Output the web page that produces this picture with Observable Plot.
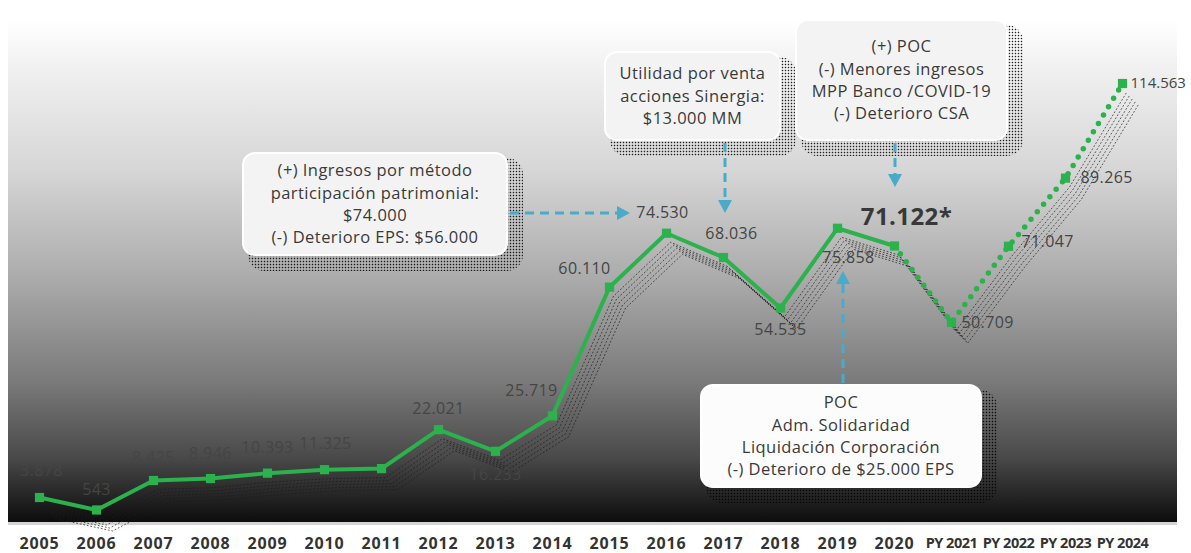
<!DOCTYPE html>
<html>
<head>
<meta charset="utf-8">
<script src="https://cdn.jsdelivr.net/npm/d3@7"></script>
<script src="https://cdn.jsdelivr.net/npm/@observablehq/plot@0.6"></script>
<style>
  html, body { margin: 0; padding: 0; background: #fff; }
  #wrap { position: relative; width: 1191px; height: 553px; overflow: hidden; font-family: "Open Sans", "Noto Sans", sans-serif; }
  #bg { position: absolute; left: 8px; top: 20px; width: 1169px; height: 502px;
        background: linear-gradient(to bottom, #ffffff 0%, #f0f0f0 10%, #d6d6d6 30%, #aaaaaa 52%, #7a7a7a 72%, #4a4a4a 87%, #0c0c0c 100%); }
  #base { position: absolute; left: 8px; top: 522px; width: 1169px; height: 3px; background: #d4d4d4; }
  #chart { position: absolute; left: 0; top: 0; }
  .box { position: absolute; box-sizing: border-box; border-radius: 13px; background: #f3f3f3; border: 2px solid #fff;
         color: #3a3a3a; font-size: 16.5px; letter-spacing: 0.45px; line-height: 22.4px; text-align: center; display: flex; flex-direction: column; justify-content: center; }
  .shadow { position: absolute; border-radius: 16px;
            background-image: radial-gradient(circle, rgba(0,0,0,0.85) 0.6px, rgba(0,0,0,0) 1.1px);
            background-size: 3px 3px; }
  #arrows { position: absolute; left: 0; top: 0; }
</style>
</head>
<body>
<div id="wrap">
  <div id="bg"></div>
  <div id="base"></div>
  <div id="chart"></div>
  <svg id="arrows" width="1191" height="553"></svg>
</div>
<script>
// ---- data ----
const years = ["2005","2006","2007","2008","2009","2010","2011","2012","2013","2014","2015","2016","2017","2018","2019","2020","PY 2021","PY 2022","PY 2023","PY 2024"];
const values = [3.878, 0.543, 8.425, 8.946, 10.393, 11.325, 11.6, 22.021, 16.233, 25.719, 60.110, 74.530, 68.036, 54.535, 75.858, 71.122, 50.709, 71.047, 89.265, 114.563];
const labels = ["3.878","543","8.425","8.946","10.393","11.325","","22.021","16.233","25.719","60.110","74.530","68.036","54.535","75.858","71.122*","50.709","71.047","89.265","114.563"];
const actualCount = 16; // 2005..2020 real, rest projected

const notes = [
  ["(+) Ingresos por método", "participación patrimonial:", "$74.000", "(-) Deterioro EPS: $56.000"],
  ["Utilidad por venta", "acciones Sinergia:", "$13.000 MM"],
  ["(+) POC", "(-) Menores ingresos", "MPP Banco /COVID-19", "(-) Deterioro CSA"],
  ["POC", "Adm. Solidaridad", "Liquidación Corporación", "(-) Deterioro de $25.000 EPS"]
];

// ---- layout (not data) ----
const labelLayout = [
  [2,-27,"middle"],[0,-20,"middle"],[0,-23,"middle"],[0,-25,"middle"],[0,-25,"middle"],[1,-26,"middle"],[0,-24,"middle"],
  [0,-21,"middle"],[0,24,"middle"],[-21,-25,"middle"],[-25,-18,"middle"],[-4,-20,"middle"],[8,-24,"middle"],
  [0,22,"middle"],[11,30,"middle"],[12,-29,"middle"],
  [10,1,"start"],[13,-4,"start"],[15,0,"start"],[8,0,"start"]
];
const boxLayout = [
  {x:242, y:152, w:266, h:104},
  {x:604, y:51,  w:177, h:90},
  {x:795, y:19,  w:213, h:122},
  {x:700, y:384, w:282, h:104, fill:"#fcfcfc"}
];

const rows = years.map((y, i) => ({year: y, value: values[i], label: labels[i], i}));
const actual = rows.slice(0, actualCount);
const projected = rows.slice(actualCount - 1);

const GREEN = "#2bb24c";
const shadowOffsets = [[4,9],[7,12],[10,15],[13,18],[16,21]];

const marks = [];
for (const [dx, dy] of shadowOffsets) {
  marks.push(Plot.line(rows, {x: "year", y: "value", dx, dy, stroke: "#1b1b1b", strokeWidth: 1, strokeDasharray: "1 2.6", strokeOpacity: 0.7}));
}
marks.push(Plot.line(actual, {x: "year", y: "value", stroke: GREEN, strokeWidth: 4}));
marks.push(Plot.line(projected, {x: "year", y: "value", stroke: GREEN, strokeWidth: 5.5, strokeDasharray: "0 9.8", strokeLinecap: "round"}));
marks.push(Plot.dot(rows, {x: "year", y: "value", symbol: "square", r: 5.2, fill: GREEN}));
rows.forEach((r, i) => {
  if (!r.label) return;
  const [dx, dy, anchor] = labelLayout[i];
  const bold = r.label.endsWith("*");
  const last = i === rows.length - 1;
  marks.push(Plot.text([r], {x: "year", y: "value", text: "label", dx, dy, textAnchor: anchor,
    fill: bold ? "#383838" : "#454545", fontSize: bold ? 24 : (last ? 15 : 16), fontWeight: bold ? 700 : 400}));
});
marks.push(Plot.axisX({tickSize: 0, tickPadding: 15, fontSize: 16, fontWeight: 700, fill: "#333", label: null}));

const chart = Plot.plot({
  width: 1191, height: 553,
  marginTop: 0, marginBottom: 31, marginLeft: 33, marginRight: 64,
  x: {type: "point", domain: years, padding: 0, label: null},
  y: {domain: [-2.806, 136.755], axis: null},
  style: {background: "transparent", fontFamily: "'Open Sans', sans-serif", overflow: "visible"},
  marks
});
document.getElementById("chart").appendChild(chart);

// style tweaks for text
d3.select(chart).selectAll("text").each(function() {
  const t = this.textContent;
  if (/^PY/.test(t)) { this.style.fontSize = "14.5px"; this.style.letterSpacing = "-0.5px"; }
  else if (/^\d{4}$/.test(t)) { this.style.letterSpacing = "0.8px"; }
  else if (t === "114.563") { this.style.letterSpacing = "0px"; }
  else { this.style.letterSpacing = "0.4px"; }
});

// ---- annotation boxes ----
const wrap = document.getElementById("wrap");
notes.forEach((lines, k) => {
  const b = boxLayout[k];
  const sh = document.createElement("div");
  sh.className = "shadow";
  Object.assign(sh.style, {left: (b.x + 6) + "px", top: (b.y + 6) + "px", width: (b.w + 9) + "px", height: (b.h + 9) + "px"});
  wrap.appendChild(sh);
  const d = document.createElement("div");
  d.className = "box";
  Object.assign(d.style, {left: b.x + "px", top: b.y + "px", width: b.w + "px", height: b.h + "px"});
  if (b.fill) d.style.background = b.fill;
  lines.forEach(t => { const s = document.createElement("div"); s.textContent = t; d.appendChild(s); });
  wrap.appendChild(d);
});
wrap.appendChild(document.getElementById("arrows"));

// ---- arrows (dashed, blue) ----
const xs = chart.scale("x");
const svg = d3.select("#arrows");
const BLUE = "#4aabc9";
function arrow(x1, y1, x2, y2) {
  const ang = Math.atan2(y2 - y1, x2 - x1);
  const L = 13, W = 7;
  const bx = x2 - L * Math.cos(ang), by = y2 - L * Math.sin(ang);
  svg.append("line").attr("x1", x1).attr("y1", y1).attr("x2", bx).attr("y2", by)
    .attr("stroke", BLUE).attr("stroke-width", 3).attr("stroke-dasharray", "9 6");
  const px = -Math.sin(ang) * W, py = Math.cos(ang) * W;
  svg.append("path").attr("d", `M${x2},${y2}L${bx + px},${by + py}L${bx - px},${by - py}Z`).attr("fill", BLUE);
}
arrow(510, 213, 630, 213);
arrow(xs.apply("2017") + 2, 143, xs.apply("2017") + 2, 213);
arrow(xs.apply("2020") + 1, 143, xs.apply("2020") + 1, 187);
arrow(843, 383, 843, 271);
</script>
</body>
</html>
